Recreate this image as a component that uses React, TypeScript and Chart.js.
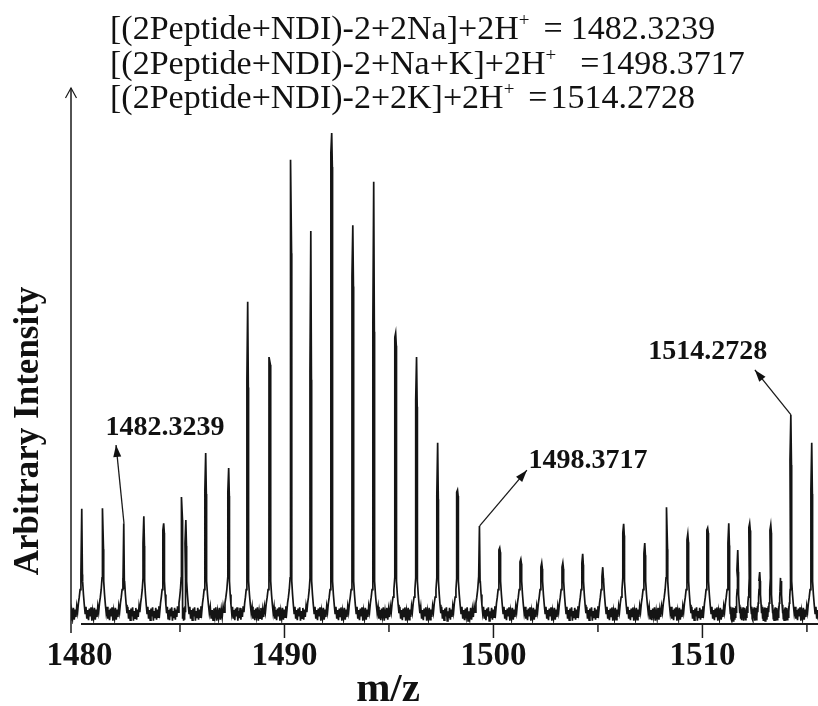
import React, { useEffect, useRef } from 'react';
import { Chart, registerables } from 'chart.js';

Chart.register(...registerables);

// ---- data ----
const peakMz = [
  1480.31, 1481.32, 1482.32, 1483.28, 1484.23, 1485.10, 1485.29, 1486.24, 1487.34, 1488.25,
  1489.31, 1490.32, 1491.27, 1492.27, 1493.28, 1494.28, 1495.33, 1496.33, 1497.34, 1498.29,
  1499.34, 1500.31, 1501.32, 1502.32, 1503.33, 1504.28, 1505.24, 1506.24, 1507.25, 1508.31,
  1509.31, 1510.26, 1511.27, 1511.70, 1512.27, 1512.75, 1513.28, 1513.76, 1514.24, 1515.24,
];
const peakIntensity = [
  21.5, 21.6, 18.8, 20.1, 18.8, 23.7, 19.4, 31.9, 29.1, 60.1,
  49.8, 86.6, 73.3, 91.6, 74.4, 82.5, 54.3, 49.8, 33.8, 25.0,
  18.3, 14.2, 12.1, 11.4, 11.4, 13.1, 10.6, 18.7, 15.1, 21.8,
  16.8, 17.9, 18.8, 13.8, 18.8, 9.7, 18.5, 7.1, 39.0, 33.8,
];
// height up to which the peak trace is doubled (dark, thick part)
const peakInner = [
  9.5, 14.4, 6.9, 15.0, 17.5, 20.0, 15.0, 25.0, 24.6, 45.5,
  49.8, 71.3, 47.0, 87.9, 64.9, 56.2, 53.5, 41.8, 24.0, 24.6,
  8.0, 13.8, 11.6, 10.6, 10.6, 11.4, 8.8, 17.0, 13.2, 14.4,
  15.7, 17.5, 15.1, 10.0, 18.0, 8.0, 17.5, 6.0, 30.6, 25.0,
];
// typical noisy trough between two neighbouring peaks (fraction of gap, intensity)
const troughFrac = [
  0.03, 0.07, 0.11, 0.15, 0.19, 0.23, 0.27, 0.31, 0.35, 0.39, 0.43, 0.47,
  0.51, 0.55, 0.59, 0.63, 0.67, 0.71, 0.75, 0.79, 0.83, 0.87, 0.91, 0.95,
];
const troughLevel = [
  8.0, 5.5, 3.6, 2.0, 3.2, 1.0, 2.6, 0.7, 2.9, 1.4, 3.1, 0.6,
  2.4, 1.1, 3.0, 0.8, 2.7, 1.3, 3.3, 2.2, 3.9, 5.0, 6.4, 8.6,
];

const X_MIN = 1479.785;
const X_MAX = 1515.53;
const Y_MIN = 0;
const Y_MAX = 100;
const xLabelTicks = [1480, 1490, 1500, 1510];
const xMajorTicks = [1490, 1500, 1510];
const xMinorTicks = [1485, 1495, 1505, 1515];

const headerMain = ['[(2Peptide+NDI)-2+2Na]+2H', '[(2Peptide+NDI)-2+Na+K]+2H', '[(2Peptide+NDI)-2+2K]+2H'];
const headerValue = ['1482.3239', '1498.3717', '1514.2728'];

const annLabels = ['1482.3239', '1498.3717', '1514.2728'];
const annPeakIndex = [2, 20, 38];
const annTextX = [1484.28, 1504.52, 1510.26];
const annTextY = [36.6, 30.4, 50.7];
const annArrowX = [1481.94, 1501.6, 1512.51];
const annArrowY = [33.4, 28.7, 47.4];

const xTitle = 'm/z';
const yTitle = 'Arbitrary Intensity';

function buildSpectrum() {
  const pts: { x: number; y: number }[] = [];
  const n = peakMz.length;
  for (let i = -1; i < n; i++) {
    const left = i < 0 ? peakMz[0] - 1 : peakMz[i];
    const right = i + 1 < n ? peakMz[i + 1] : peakMz[n - 1] + 1;
    if (i >= 0) {
      const m = peakMz[i];
      const h = peakIntensity[i];
      const inner = peakInner[i];
      pts.push({ x: m - 0.05, y: inner });
      pts.push({ x: m - 0.01, y: h });
      pts.push({ x: m + 0.02, y: inner * 0.97 });
    }
    const gap = right - left;
    for (let k = 0; k < troughFrac.length; k++) {
      pts.push({ x: left + troughFrac[k] * gap, y: troughLevel[k] });
    }
  }
  return pts;
}

const SERIF = '"Liberation Serif", "Times New Roman", serif';

function arrow(ctx: CanvasRenderingContext2D, x0: number, y0: number, x1: number, y1: number) {
  ctx.beginPath();
  ctx.moveTo(x0, y0);
  ctx.lineTo(x1, y1);
  ctx.stroke();
  const ang = Math.atan2(y1 - y0, x1 - x0);
  const len = 12;
  const w = 4;
  ctx.beginPath();
  ctx.moveTo(x1, y1);
  ctx.lineTo(x1 - len * Math.cos(ang) + w * Math.sin(ang), y1 - len * Math.sin(ang) - w * Math.cos(ang));
  ctx.lineTo(x1 - len * Math.cos(ang) - w * Math.sin(ang), y1 - len * Math.sin(ang) + w * Math.cos(ang));
  ctx.closePath();
  ctx.fill();
}

const decorPlugin = {
  id: 'decor',
  afterDraw(chart: any) {
    const { ctx, chartArea } = chart;
    const xs = chart.scales.x;
    const ys = chart.scales.y;
    const left = chartArea.left;
    const top = chartArea.top;
    const bottom = chartArea.bottom;
    const right = chartArea.right;
    ctx.save();
    ctx.strokeStyle = '#1a1a1a';
    ctx.fillStyle = '#111';
    ctx.lineWidth = 1.5;

    // y axis with open arrow
    ctx.beginPath();
    ctx.moveTo(left, top);
    ctx.lineTo(left, bottom + 9);
    ctx.stroke();
    ctx.lineWidth = 1.2;
    ctx.beginPath();
    ctx.moveTo(left - 5.5, top + 10);
    ctx.lineTo(left, top);
    ctx.lineTo(left + 5.5, top + 10);
    ctx.stroke();

    // x axis
    ctx.lineWidth = 1.8;
    ctx.beginPath();
    ctx.moveTo(left + 10, bottom);
    ctx.lineTo(right, bottom);
    ctx.stroke();
    ctx.lineWidth = 1.5;
    for (const v of xMajorTicks) {
      const px = xs.getPixelForValue(v);
      ctx.beginPath();
      ctx.moveTo(px, bottom);
      ctx.lineTo(px, bottom + 14);
      ctx.stroke();
    }
    for (const v of xMinorTicks) {
      const px = xs.getPixelForValue(v);
      ctx.beginPath();
      ctx.moveTo(px, bottom);
      ctx.lineTo(px, bottom + 8);
      ctx.stroke();
    }

    // tick labels
    ctx.font = `bold 33px ${SERIF}`;
    ctx.textAlign = 'center';
    ctx.textBaseline = 'alphabetic';
    for (const v of xLabelTicks) {
      const px = xs.getPixelForValue(v);
      ctx.fillText(String(v), px + (v === 1480 ? 4 : 0), 665);
    }

    // axis titles
    ctx.font = `bold 41px ${SERIF}`;
    ctx.fillText(xTitle, 388, 701);

    ctx.save();
    ctx.translate(38, 431);
    ctx.rotate(-Math.PI / 2);
    ctx.font = `bold 35px ${SERIF}`;
    ctx.textAlign = 'center';
    ctx.fillText(yTitle, 0, 0);
    ctx.restore();

    // header
    const baselines = [39, 74, 108];
    const gapAfterSup = [14, 24, 14];
    const gapAfterEq = [8, 1, 3];
    for (let i = 0; i < headerMain.length; i++) {
      ctx.textAlign = 'left';
      ctx.font = `34px ${SERIF}`;
      let x = 110;
      ctx.fillText(headerMain[i], x, baselines[i]);
      x += ctx.measureText(headerMain[i]).width;
      ctx.font = `19px ${SERIF}`;
      ctx.fillText('+', x, baselines[i] - 13);
      x += ctx.measureText('+').width + gapAfterSup[i];
      ctx.font = `34px ${SERIF}`;
      ctx.fillText('=', x, baselines[i]);
      x += ctx.measureText('=').width + gapAfterEq[i];
      ctx.fillText(headerValue[i], x, baselines[i]);
    }

    // annotations
    ctx.lineWidth = 1.3;
    ctx.font = `bold 28px ${SERIF}`;
    ctx.textAlign = 'center';
    ctx.textBaseline = 'middle';
    for (let i = 0; i < annLabels.length; i++) {
      const pi = annPeakIndex[i];
      const x0 = xs.getPixelForValue(peakMz[pi]);
      const y0 = ys.getPixelForValue(peakIntensity[pi]);
      const x1 = xs.getPixelForValue(annArrowX[i]);
      const y1 = ys.getPixelForValue(annArrowY[i]);
      arrow(ctx, x0, y0, x1, y1);
      ctx.fillText(annLabels[i], xs.getPixelForValue(annTextX[i]), ys.getPixelForValue(annTextY[i]));
    }
    ctx.restore();
  },
};

export default function App() {
  const ref = useRef<HTMLCanvasElement>(null);
  useEffect(() => {
    document.body.style.margin = '0';
    const chart = new Chart(ref.current as HTMLCanvasElement, {
      type: 'line',
      data: {
        datasets: [
          {
            data: buildSpectrum(),
            borderColor: '#141414',
            borderWidth: 1.7,
            pointRadius: 0,
            tension: 0,
            fill: false,
          },
        ],
      },
      options: {
        animation: false,
        responsive: false,
        events: [],
        layout: { padding: { left: 71, right: 0, top: 88, bottom: 82 } },
        plugins: { legend: { display: false }, tooltip: { enabled: false } },
        scales: {
          x: { type: 'linear', min: X_MIN, max: X_MAX, display: false },
          y: { type: 'linear', min: Y_MIN, max: Y_MAX, display: false },
        },
      },
      plugins: [decorPlugin],
    } as any);
    return () => chart.destroy();
  }, []);
  return (
    <div style={{ width: 818, height: 706, background: '#fff' }}>
      <canvas ref={ref} width={818} height={706} style={{ display: 'block' }} />
    </div>
  );
}
